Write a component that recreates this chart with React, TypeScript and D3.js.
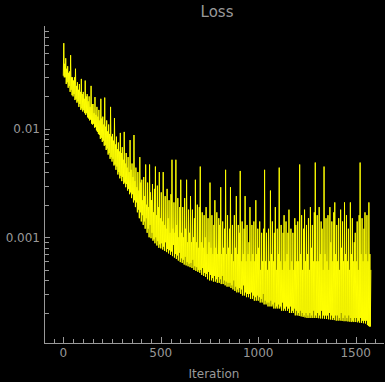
import React, { useEffect, useRef } from "react";
import * as d3 from "d3";

// The loss curve is dense (~5 iterations per pixel), so it is kept the way a
// peak-downsampling plot keeps it: the minimum and maximum loss read off the
// picture for each bin of 5 iterations.
const BIN = 5;
const lossMax: number[] = [
  0.062, 0.04, 0.045, 0.036, 0.038, 0.033, 0.034, 0.048, 0.03, 0.03,
  0.028, 0.03, 0.036, 0.025, 0.027, 0.023, 0.026, 0.022, 0.029, 0.021,
  0.022, 0.019, 0.028, 0.02, 0.021, 0.018, 0.02, 0.016, 0.025, 0.017,
  0.017, 0.014, 0.0197, 0.0135, 0.016, 0.013, 0.015, 0.012, 0.019, 0.0125,
  0.013, 0.011, 0.0195, 0.0105, 0.012, 0.0095, 0.011, 0.009, 0.016, 0.0085,
  0.009, 0.0078, 0.0126, 0.0072, 0.0085, 0.0065, 0.0075, 0.0062, 0.0092, 0.006,
  0.0068, 0.0052, 0.0094, 0.0048, 0.006, 0.0044, 0.0055, 0.004, 0.0079, 0.0042,
  0.0048, 0.0036, 0.0088, 0.0033, 0.0044, 0.0029, 0.004, 0.0027, 0.0055, 0.0032,
  0.0034, 0.0022, 0.0036, 0.0024, 0.0047, 0.002, 0.0032, 0.0019, 0.0047, 0.0026,
  0.0022, 0.0031, 0.0017, 0.0028, 0.0045, 0.0016, 0.003, 0.0019, 0.004, 0.0015,
  0.0026, 0.0014, 0.004, 0.0013, 0.0024, 0.0012, 0.0028, 0.0015, 0.0022, 0.0011,
  0.0025, 0.0052, 0.0012, 0.0021, 0.0011, 0.0052, 0.0013, 0.0023, 0.001, 0.0019,
  0.0034, 0.0011, 0.0019, 0.001, 0.0023, 0.0012, 0.0034, 0.0009, 0.0018, 0.0011,
  0.0024, 0.0009, 0.0018, 0.001, 0.0015, 0.0034, 0.0009, 0.002, 0.0008, 0.0019,
  0.0045, 0.0009, 0.0017, 0.0008, 0.0016, 0.001, 0.0019, 0.0007, 0.0015, 0.0009,
  0.0032, 0.0008, 0.0016, 0.0007, 0.0013, 0.0022, 0.0008, 0.0017, 0.0007, 0.0015,
  0.0013, 0.0029, 0.0007, 0.0014, 0.0008, 0.0012, 0.0042, 0.0007, 0.0016, 0.0008,
  0.0012, 0.0029, 0.0007, 0.0013, 0.0006, 0.0016, 0.0008, 0.0024, 0.0007, 0.0013,
  0.0011, 0.0041, 0.0006, 0.0014, 0.0007, 0.0012, 0.0024, 0.0006, 0.0013, 0.0007,
  0.0009, 0.0019, 0.0006, 0.0013, 0.0007, 0.0014, 0.0006, 0.0022, 0.0007, 0.0012,
  0.0008, 0.0014, 0.0005, 0.0011, 0.0006, 0.0012, 0.0042, 0.0006, 0.0011, 0.0005,
  0.0012, 0.0006, 0.0027, 0.0007, 0.0014, 0.0006, 0.0011, 0.0019, 0.0005, 0.0012,
  0.0007, 0.0044, 0.0006, 0.0013, 0.0005, 0.0011, 0.0016, 0.0006, 0.0014, 0.0007,
  0.0011, 0.0018, 0.0005, 0.0012, 0.0006, 0.0011, 0.0005, 0.0015, 0.0013, 0.0006,
  0.0014, 0.0006, 0.0047, 0.0007, 0.0016, 0.0005, 0.0012, 0.0018, 0.0006, 0.0013,
  0.0007, 0.0015, 0.0005, 0.0019, 0.0008, 0.0013, 0.0006, 0.0017, 0.0049, 0.0006,
  0.0016, 0.0006, 0.0019, 0.0007, 0.0014, 0.0012, 0.0005, 0.0045, 0.0007, 0.0015,
  0.0006, 0.0016, 0.0005, 0.0019, 0.0009, 0.0014, 0.0006, 0.0017, 0.0021, 0.0007,
  0.0013, 0.0006, 0.0015, 0.0005, 0.0018, 0.0008, 0.0014, 0.0006, 0.0021, 0.0007,
  0.0016, 0.0006, 0.0012, 0.0005, 0.0021, 0.0007, 0.0015, 0.0006, 0.0009, 0.0011,
  0.0006, 0.0014, 0.0005, 0.0016, 0.0049, 0.0007, 0.0015, 0.0006, 0.0012, 0.0017,
  0.0007, 0.0016, 0.0006, 0.0021, 0.0007, 0.0005,
];
const lossMin: number[] = [
  0.031, 0.03, 0.03, 0.026, 0.027, 0.024, 0.025, 0.022, 0.023, 0.0205,
  0.02, 0.021, 0.0185, 0.019, 0.0175, 0.018, 0.016, 0.017, 0.015, 0.0155,
  0.0145, 0.015, 0.014, 0.0135, 0.014, 0.0128, 0.0125, 0.012, 0.0122, 0.0112,
  0.011, 0.0112, 0.0103, 0.0104, 0.0097, 0.0094, 0.009, 0.0088, 0.0081, 0.0083,
  0.0076, 0.0078, 0.007, 0.0071, 0.0064, 0.0066, 0.0058, 0.006, 0.0053, 0.0055,
  0.005, 0.0053, 0.0046, 0.0047, 0.0042, 0.0045, 0.0038, 0.004, 0.0035, 0.0037,
  0.0033, 0.0036, 0.0031, 0.0032, 0.0029, 0.0031, 0.0027, 0.0028, 0.0025, 0.0026,
  0.0023, 0.0025, 0.0021, 0.0022, 0.0019, 0.0021, 0.0017, 0.0018, 0.0015, 0.0017,
  0.0014, 0.0016, 0.0013, 0.0014, 0.0012, 0.0015, 0.0011, 0.0012, 0.001, 0.0013,
  0.00098, 0.0011, 0.00093, 0.00096, 0.00088, 0.001, 0.00084, 0.00092, 0.0008, 0.00086,
  0.00079, 0.00088, 0.00077, 0.00082, 0.00075, 0.0009, 0.00073, 0.00078, 0.00071, 0.00076,
  0.00069, 0.00074, 0.00067, 0.00085, 0.00065, 0.0007, 0.00063, 0.00068, 0.00061, 0.00072,
  0.00059, 0.00064, 0.00058, 0.00062, 0.00056, 0.00066, 0.00055, 0.00059, 0.00054, 0.00057,
  0.00053, 0.00058, 0.00052, 0.00062, 0.0005, 0.00054, 0.00049, 0.00053, 0.00048, 0.0005,
  0.00047, 0.0005, 0.00045, 0.00052, 0.00044, 0.00047, 0.00043, 0.00046, 0.00041, 0.00048,
  0.0004, 0.00045, 0.0004, 0.00042, 0.00039, 0.00044, 0.00039, 0.00041, 0.00038, 0.00043,
  0.00038, 0.00041, 0.00037, 0.00044, 0.00037, 0.0004, 0.00036, 0.00039, 0.00035, 0.00038,
  0.00035, 0.00038, 0.00034, 0.00036, 0.00033, 0.0004, 0.00032, 0.00035, 0.00031, 0.00033,
  0.00031, 0.00034, 0.0003, 0.00033, 0.00029, 0.00036, 0.00029, 0.00031, 0.00028, 0.0003,
  0.00028, 0.0003, 0.00027, 0.00031, 0.00027, 0.00029, 0.00026, 0.00028, 0.00026, 0.00029,
  0.00026, 0.00028, 0.00025, 0.00027, 0.00025, 0.0003, 0.00024, 0.00026, 0.00024, 0.00025,
  0.00023, 0.00025, 0.00023, 0.00026, 0.00023, 0.00024, 0.00022, 0.00025, 0.00022, 0.00023,
  0.00022, 0.00024, 0.00022, 0.00023, 0.00021, 0.00025, 0.00021, 0.00022, 0.00021, 0.00023,
  0.00021, 0.00022, 0.0002, 0.00023, 0.0002, 0.00021, 0.0002, 0.00022, 0.00019, 0.00021,
  0.00019, 0.0002, 0.000188, 0.00021, 0.000186, 0.0002, 0.000184, 0.00019, 0.000182, 0.0002,
  0.00018, 0.00019, 0.00018, 0.0002, 0.00018, 0.00019, 0.00018, 0.00021, 0.00018, 0.00019,
  0.00018, 0.0002, 0.000179, 0.00019, 0.000178, 0.00021, 0.000178, 0.00019, 0.000177, 0.00019,
  0.000176, 0.00019, 0.000175, 0.0002, 0.000174, 0.00019, 0.000173, 0.00018, 0.000172, 0.00019,
  0.00017, 0.00019, 0.00017, 0.00018, 0.00017, 0.0002, 0.000169, 0.00018, 0.000168, 0.00019,
  0.000168, 0.00018, 0.000167, 0.00019, 0.000166, 0.00018, 0.000165, 0.00017, 0.000165, 0.00018,
  0.000165, 0.00018, 0.000164, 0.00017, 0.000163, 0.00018, 0.000162, 0.00017, 0.000161, 0.00017,
  0.00016, 0.00017, 0.000155, 0.000152, 0.00015, 0.00015,
];

const xMajorTicks = [0, 500, 1000, 1500];
const yMajorTicks = [0.01, 0.001];
const yTickLabels = ["0.01", "0.001"];
const xDomain: [number, number] = [-99, 1645];
const yDomain: [number, number] = [0.0001057, 0.0893];

const W = 385;
const H = 382;
const plot = { left: 44, right: 384, top: 26, bottom: 343 };
const AXIS = "#999999";
const FONT = "DejaVu Sans, sans-serif";

export default function App() {
  const ref = useRef<SVGSVGElement | null>(null);

  useEffect(() => {
    document.body.style.margin = "0";
    document.body.style.background = "#000";
    const svg = d3.select(ref.current);
    svg.selectAll("*").remove();

    const x = d3.scaleLinear().domain(xDomain).range([plot.left, plot.right]);
    const y = d3.scaleLog().domain(yDomain).range([plot.bottom, plot.top]);

    svg.append("rect").attr("width", W).attr("height", H).attr("fill", "#000");

    // min/max pairs per bin, drawn as one continuous line
    const pts: [number, number][] = [];
    lossMin.forEach((lo, i) => {
      pts.push([i * BIN, lo]);
      pts.push([i * BIN + BIN / 2, lossMax[i]]);
    });
    const line = d3
      .line<[number, number]>()
      .x((d) => x(d[0]))
      .y((d) => y(d[1]));
    svg
      .append("path")
      .datum(pts)
      .attr("d", line)
      .attr("fill", "none")
      .attr("stroke", "#ffff00")
      .attr("stroke-width", 1)
      .attr("stroke-linejoin", "bevel");

    // axes lines
    svg
      .append("line")
      .attr("x1", plot.left + 0.5)
      .attr("x2", plot.left + 0.5)
      .attr("y1", plot.top)
      .attr("y2", plot.bottom + 0.5)
      .attr("stroke", AXIS);
    svg
      .append("line")
      .attr("x1", plot.left)
      .attr("x2", plot.right)
      .attr("y1", plot.bottom + 0.5)
      .attr("y2", plot.bottom + 0.5)
      .attr("stroke", AXIS);

    // y ticks (log, with minor ticks)
    const yMinor: number[] = [];
    for (let e = -5; e <= 0; e++) {
      for (let m = 1; m <= 9; m++) {
        const v = m * Math.pow(10, e);
        if (v >= yDomain[0] && v <= yDomain[1]) yMinor.push(v);
      }
    }
    yMinor.forEach((v) => {
      const major = yMajorTicks.some((t) => Math.abs(t - v) / t < 1e-6);
      const yy = Math.round(y(v)) + 0.5;
      svg
        .append("line")
        .attr("x1", plot.left)
        .attr("x2", plot.left + (major ? 6 : 5))
        .attr("y1", yy)
        .attr("y2", yy)
        .attr("stroke", AXIS);
    });
    yMajorTicks.forEach((v, i) => {
      svg
        .append("text")
        .attr("x", plot.left - 4)
        .attr("y", y(v) + 4.5)
        .attr("text-anchor", "end")
        .attr("fill", AXIS)
        .attr("font-family", FONT)
        .attr("font-size", 12)
        .text(yTickLabels[i]);
    });

    // x ticks
    const xMinor = d3.range(-50, 1650, 50);
    xMinor.forEach((v) => {
      const major = xMajorTicks.includes(v);
      const xx = Math.round(x(v)) + 0.5;
      svg
        .append("line")
        .attr("x1", xx)
        .attr("x2", xx)
        .attr("y1", plot.bottom)
        .attr("y2", plot.bottom - (major ? 6 : 4))
        .attr("stroke", AXIS);
    });
    xMajorTicks.forEach((v) => {
      svg
        .append("text")
        .attr("x", x(v))
        .attr("y", 357)
        .attr("text-anchor", "middle")
        .attr("fill", AXIS)
        .attr("font-family", FONT)
        .attr("font-size", 12)
        .text(String(v));
    });

    svg
      .append("text")
      .attr("x", (plot.left + plot.right) / 2)
      .attr("y", 378)
      .attr("text-anchor", "middle")
      .attr("fill", AXIS)
      .attr("font-family", FONT)
      .attr("font-size", 12)
      .text("Iteration");

    svg
      .append("text")
      .attr("x", 217)
      .attr("y", 16.5)
      .attr("text-anchor", "middle")
      .attr("fill", AXIS)
      .attr("font-family", FONT)
      .attr("font-size", 15)
      .text("Loss");
  }, []);

  return (
    <svg
      ref={ref}
      width={W}
      height={H}
      style={{ position: "absolute", left: 0, top: 0, display: "block" }}
    />
  );
}
